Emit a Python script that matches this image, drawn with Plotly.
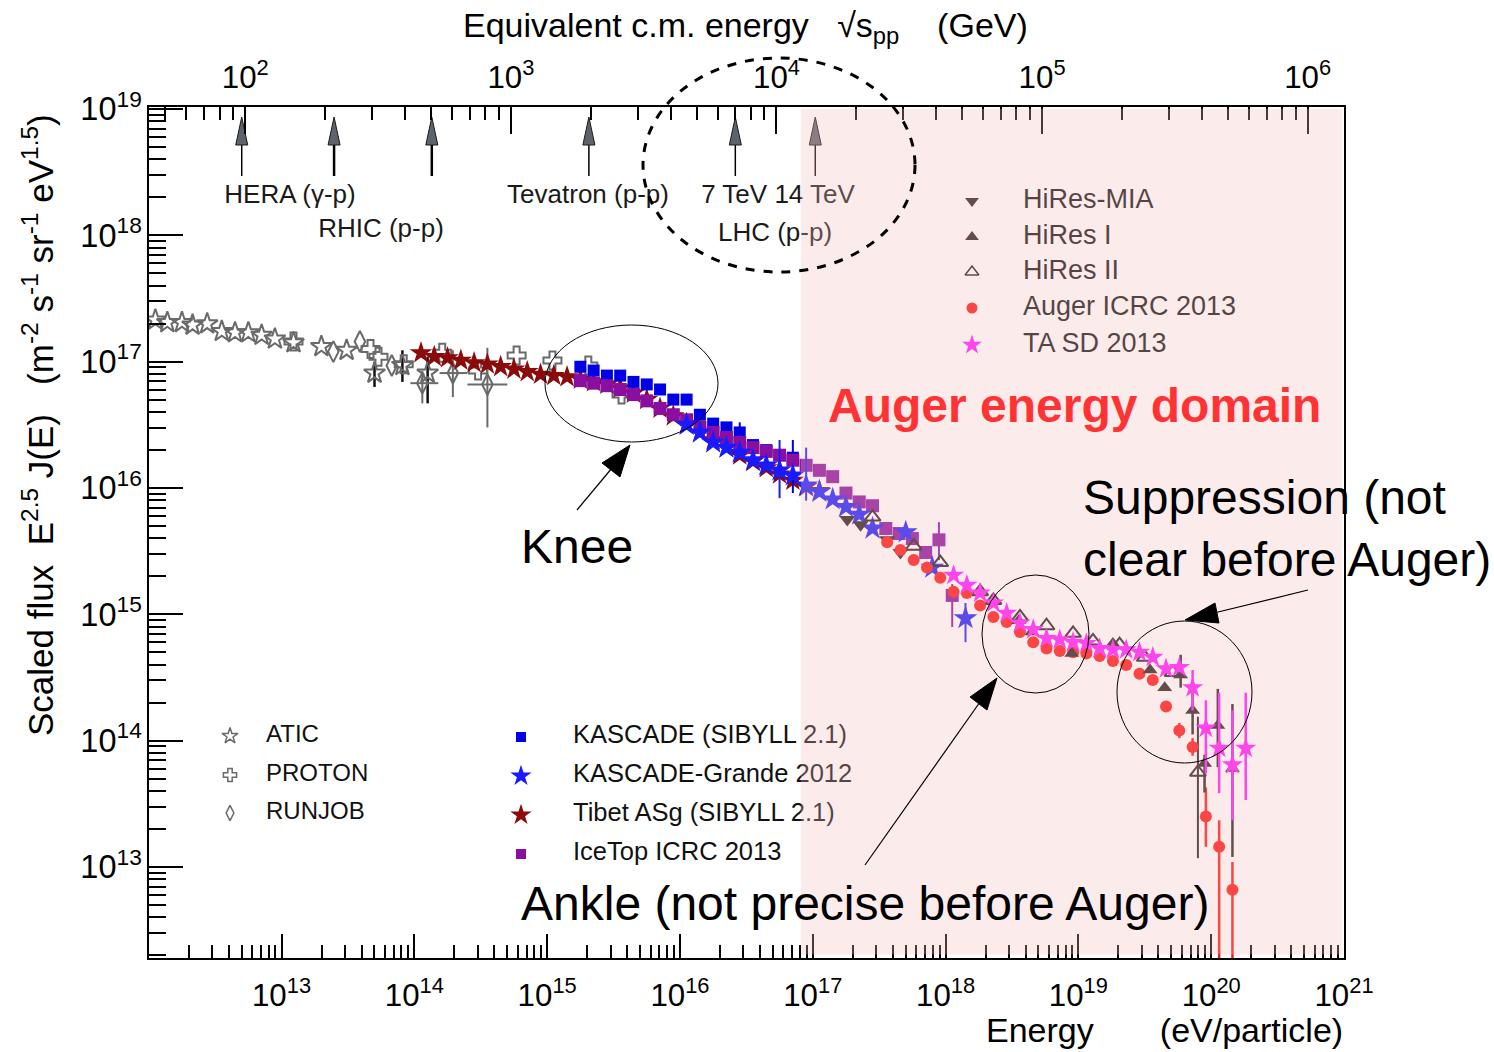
import math
import plotly.graph_objects as go

FONT = "Liberation Sans, Arial, Helvetica, sans-serif"

# ---------------------------------------------------------------------------
# Cosmic-ray spectra: log10(E / eV) and log10(E^2.5 J(E) / m^-2 s^-1 sr^-1 eV^1.5)
# ---------------------------------------------------------------------------
atic_lgE = [12.05, 12.14, 12.25, 12.33, 12.44, 12.55, 12.65, 12.75, 12.85, 12.95,
            13.09, 13.30, 13.49, 13.70, 13.91, 14.10]
atic_lgF = [17.33, 17.31, 17.31, 17.29, 17.30, 17.24, 17.23, 17.23, 17.21, 17.18,
            17.15, 17.12, 17.09, 16.91, 16.97, 16.91]
atic_bar_lgE = [13.70, 13.91, 14.10]
atic_bar_hi = [17.00, 17.09, 17.04]
atic_bar_lo = [16.80, 16.84, 16.67]

proton_lgE = [13.09, 13.67, 13.73, 13.92, 14.21, 14.48, 14.77, 15.04, 15.31, 15.56]
proton_lgF = [17.16, 17.10, 17.04, 16.98, 17.07, 16.93, 17.05, 17.01, 16.97, 16.74]

runjob_lgE = [13.39, 13.59, 13.83, 14.06, 14.29, 14.55]
runjob_lgF = [17.08, 17.16, 16.97, 16.83, 16.91, 16.82]
runjob_bar_lgE = [14.06, 14.29, 14.55]
runjob_bar_hi = [16.93, 17.09, 17.11]
runjob_bar_lo = [16.67, 16.72, 16.48]
runjob_xbar_lo = [13.97, 14.19, 14.40]
runjob_xbar_hi = [14.18, 14.40, 14.70]

tibet_lgE = [14.05, 14.15, 14.25, 14.35, 14.45, 14.55, 14.65, 14.75, 14.85, 14.95,
             15.05, 15.15, 15.25, 15.35, 15.45, 15.55, 15.65, 15.75, 15.85, 15.95,
             16.05, 16.15, 16.25, 16.35, 16.45, 16.55, 16.65, 16.75, 16.85, 16.95, 17.05]
tibet_lgF = [17.07, 17.04, 17.03, 17.01, 16.99, 16.98, 16.96, 16.94, 16.92, 16.90,
             16.89, 16.88, 16.86, 16.84, 16.82, 16.79, 16.75, 16.70, 16.63, 16.57,
             16.51, 16.44, 16.38, 16.32, 16.26, 16.21, 16.16, 16.11, 16.06, 16.01, 15.98]

kascade_lgE = [15.25, 15.35, 15.45, 15.55, 15.65, 15.75, 15.85, 15.95, 16.05, 16.15,
               16.25, 16.35, 16.45, 16.55, 16.65, 16.75, 16.85]
kascade_lgF = [16.96, 16.93, 16.89, 16.89, 16.84, 16.82, 16.78, 16.70, 16.70, 16.58,
               16.51, 16.48, 16.44, 16.34, 16.30, 16.26, 16.24]
kascade_bar_lgE = [16.45, 16.85]
kascade_bar_hi = [16.52, 16.38]
kascade_bar_lo = [16.38, 15.96]

kg_lgE = [16.05, 16.15, 16.25, 16.35, 16.45, 16.55, 16.65, 16.75, 16.85, 16.95,
          17.05, 17.15, 17.25, 17.35, 17.45, 17.70, 17.90, 18.15]
kg_lgF = [16.50, 16.44, 16.36, 16.32, 16.28, 16.22, 16.18, 16.14, 16.10, 16.02,
          15.97, 15.91, 15.85, 15.79, 15.68, 15.65, 15.37, 14.97]
kg_bar_lgE = [16.75, 16.95, 18.15]
kg_bar_hi = [16.38, 16.32, 15.09]
kg_bar_lo = [15.92, 15.90, 14.78]

icetop_lgE = [15.25, 15.35, 15.45, 15.55, 15.65, 15.75, 15.85, 15.95, 16.05, 16.15,
              16.25, 16.35, 16.45, 16.55, 16.65, 16.75, 16.85, 16.95, 17.05, 17.15,
              17.25, 17.35, 17.45, 17.55, 17.65, 17.75, 17.85, 17.95, 18.05]
icetop_lgF = [16.85, 16.83, 16.81, 16.78, 16.74, 16.69, 16.63, 16.58, 16.54, 16.48,
              16.44, 16.40, 16.36, 16.32, 16.29, 16.26, 16.22, 16.18, 16.14, 16.09,
              15.96, 15.89, 15.86, 15.68, 15.64, 15.60, 15.49, 15.59, 15.15]
icetop_bar_lgE = [17.95, 18.05]
icetop_bar_hi = [15.73, 15.24]
icetop_bar_lo = [15.43, 14.90]

hiresmia_lgE = [17.26, 17.36, 17.56, 17.66]
hiresmia_lgF = [15.75, 15.71, 15.59, 15.49]

hires1_lgE = [18.55, 18.65, 18.95, 19.26, 19.54, 19.65, 19.77, 19.86, 19.95, 20.05, 20.16]
hires1_lgF = [14.95, 14.86, 14.69, 14.77, 14.56, 14.42, 14.52, 14.24, 13.82, 14.12, 13.78]
hires1_bar_lgE = [19.77, 19.86, 19.95, 20.05, 20.16]
hires1_bar_hi = [14.68, 14.40, 13.89, 14.41, 14.29]
hires1_bar_lo = [14.42, 14.05, 13.59, 13.79, 13.08]

hires2_lgE = [17.45, 17.76, 17.96, 18.26, 18.36, 18.56, 18.76, 18.96, 19.11, 19.31,
              19.50, 19.71, 19.90]
hires2_lgF = [15.77, 15.54, 15.41, 15.18, 15.11, 14.98, 14.91, 14.85, 14.79, 14.76,
              14.66, 14.54, 13.75]
hires2_bar_lgE = [19.90]
hires2_bar_hi = [14.19]
hires2_bar_lo = [13.07]

auger_lgE = [17.56, 17.66, 17.76, 17.86, 17.96, 18.06, 18.16, 18.26, 18.36, 18.46,
             18.56, 18.66, 18.76, 18.86, 18.96, 19.06, 19.16, 19.26, 19.36, 19.46,
             19.56, 19.66, 19.76, 19.86, 19.96, 20.06, 20.16]
auger_lgF = [15.57, 15.51, 15.43, 15.37, 15.29, 15.18, 15.17, 15.07, 14.98, 14.94,
             14.86, 14.78, 14.73, 14.71, 14.70, 14.69, 14.67, 14.63, 14.60, 14.53,
             14.48, 14.27, 14.08, 13.95, 13.40, 13.16, 12.82]
auger_bar_lgE = [19.76, 19.86, 19.96, 20.06, 20.16]
auger_bar_hi = [14.14, 14.02, 13.63, 13.37, 13.04]
auger_bar_lo = [14.02, 13.88, 13.16, 11.50, 11.50]

ta_lgE = [18.06, 18.16, 18.26, 18.36, 18.46, 18.56, 18.66, 18.76, 18.86, 18.96,
          19.06, 19.16, 19.26, 19.36, 19.46, 19.56, 19.66, 19.76, 19.86, 19.96,
          20.06, 20.16, 20.26]
ta_lgF = [15.31, 15.23, 15.17, 15.09, 15.01, 14.93, 14.88, 14.81, 14.80, 14.78,
          14.77, 14.73, 14.72, 14.72, 14.70, 14.66, 14.57, 14.58, 14.42, 14.10,
          13.94, 13.81, 13.94]
ta_bar_lgE = [19.86, 19.96, 20.06, 20.16, 20.26]
ta_bar_hi = [14.56, 14.32, 14.38, 14.24, 14.38]
ta_bar_lo = [14.24, 13.74, 13.585, 13.37, 13.53]

# Collider energies (sqrt(s) in GeV) and their labels
acc_sqrts = [97, 216, 504, 1967, 7000, 14000]
acc_stem_width = [1.5, 2.5, 2.5, 1.5, 1.5, 1.5]
acc_labels = ["HERA (γ-p)", "RHIC (p-p)", "Tevatron (p-p)", "7 TeV 14 TeV", "LHC (p-p)"]

# Axis extents (log10); the energy axis starts just past 10^12 so that decade is unlabelled
LG_E_MIN, LG_E_MAX = 12.002, 21.0
LG_F_MIN, LG_F_MAX = 12.28, 19.016
AUGER_LG_E = (16.91, 20.985)        # shaded Auger energy domain

TWO_MP = 2 * 0.938272               # GeV


def lg_sqrts(lg_e):
    """log10 of the pp c.m. energy (GeV) for a proton of energy 10**lg_e eV on a proton at rest."""
    return 0.5 * (lg_e - 9 + math.log10(TWO_MP))


# plot-area box in page pixels, used to place decorations
W0, W1, H0, H1 = 149, 1344, 107, 958


def px(x):
    return (x - W0) / (W1 - W0)


def py(y):
    return (H1 - y) / (H1 - H0)


def pw(v):
    return [10 ** x for x in v]


def bars(lg_pos, lg_val, bar_pos, bar_hi, bar_lo, color, thick=2):
    plus, minus = [], []
    for p, v in zip(lg_pos, lg_val):
        if p in bar_pos:
            i = bar_pos.index(p)
            plus.append(10 ** bar_hi[i] - 10 ** v)
            minus.append(10 ** v - 10 ** bar_lo[i])
        else:
            plus.append(0.0)
            minus.append(0.0)
    return dict(type="data", symmetric=False, array=plus, arrayminus=minus,
                color=color, thickness=thick, width=0)


fig = go.Figure()


def add_series(lgE, lgF, symbol, color, size, open_marker=False, error_y=None, error_x=None):
    marker = dict(symbol=symbol, color=color, size=size,
                  line=dict(width=2 if open_marker else 0, color=color))
    tr = go.Scatter(x=pw(lgE), y=pw(lgF), mode="markers", marker=marker,
                    showlegend=False, hoverinfo="skip")
    if error_y:
        tr.error_y = error_y
    if error_x:
        tr.error_x = error_x
    fig.add_trace(tr)


GREY = "#6a6a6a"
C_TIBET = "#8b0a0a"
C_KASCADE = "#0000e6"
C_KG = "#1a1aff"
C_ICETOP = "#8a0fa0"
C_HIRES = "#231c1c"
C_AUGER = "#ff1212"
C_TA = "#ff14ff"

add_series(atic_lgE, atic_lgF, "star-open", GREY, 16, True,
           error_y=bars(atic_lgE, atic_lgF, atic_bar_lgE, atic_bar_hi, atic_bar_lo, "#111111", 2.5))
add_series(proton_lgE, proton_lgF, "cross-open", GREY, 15, True)
add_series(runjob_lgE, runjob_lgF, "diamond-tall-open", GREY, 15, True,
           error_y=bars(runjob_lgE, runjob_lgF, runjob_bar_lgE, runjob_bar_hi, runjob_bar_lo, GREY, 2),
           error_x=bars(runjob_lgE, runjob_lgE, runjob_bar_lgE, runjob_xbar_hi, runjob_xbar_lo, GREY, 2))
add_series(tibet_lgE, tibet_lgF, "star", C_TIBET, 17)
add_series(kascade_lgE, kascade_lgF, "square", C_KASCADE, 12,
           error_y=bars(kascade_lgE, kascade_lgF, kascade_bar_lgE, kascade_bar_hi, kascade_bar_lo, C_KASCADE))
add_series(icetop_lgE, icetop_lgF, "square", C_ICETOP, 13,
           error_y=bars(icetop_lgE, icetop_lgF, icetop_bar_lgE, icetop_bar_hi, icetop_bar_lo, C_ICETOP))
add_series(kg_lgE, kg_lgF, "star", C_KG, 18,
           error_y=bars(kg_lgE, kg_lgF, kg_bar_lgE, kg_bar_hi, kg_bar_lo, C_KG))
add_series(hiresmia_lgE, hiresmia_lgF, "triangle-down", C_HIRES, 14)
add_series(hires2_lgE, hires2_lgF, "triangle-up-open", C_HIRES, 14, True,
           error_y=bars(hires2_lgE, hires2_lgF, hires2_bar_lgE, hires2_bar_hi, hires2_bar_lo, C_HIRES))
add_series(auger_lgE, auger_lgF, "circle", C_AUGER, 12,
           error_y=bars(auger_lgE, auger_lgF, auger_bar_lgE, auger_bar_hi, auger_bar_lo, C_AUGER, 2.5))
add_series(hires1_lgE, hires1_lgF, "triangle-up", C_HIRES, 13,
           error_y=bars(hires1_lgE, hires1_lgF, hires1_bar_lgE, hires1_bar_hi, hires1_bar_lo, C_HIRES, 2.5))
add_series(ta_lgE, ta_lgF, "star", C_TA, 16,
           error_y=bars(ta_lgE, ta_lgF, ta_bar_lgE, ta_bar_hi, ta_bar_lo, C_TA, 2.5))

# ---- collider arrows on the sqrt(s) axis ----
head_half = 10 ** (6 / 265.5)
for s, w in zip(acc_sqrts, acc_stem_width):
    fig.add_trace(go.Scatter(x=[s, s], y=[py(176), py(142)], xaxis="x2", yaxis="y3",
                             mode="lines", line=dict(color="black", width=w),
                             showlegend=False, hoverinfo="skip"))
    fig.add_trace(go.Scatter(x=[s / head_half, s * head_half, s, s / head_half],
                             y=[py(145), py(145), py(117), py(145)],
                             xaxis="x2", yaxis="y3", mode="lines", fill="toself",
                             fillcolor="#5c636b", line=dict(color="#1a1a1a", width=1),
                             showlegend=False, hoverinfo="skip"))

acc_label_x = [290, 381, 588, 778, 775]
acc_label_y = [196, 230, 196, 196, 234]
fig.add_trace(go.Scatter(x=[px(v) for v in acc_label_x], y=[py(v) for v in acc_label_y],
                         xaxis="x3", yaxis="y3", mode="text", text=acc_labels,
                         textposition="middle center", cliponaxis=False,
                         textfont=dict(family=FONT, size=26, color="#1a1a1a"),
                         showlegend=False, hoverinfo="skip"))

# ---- legend blocks ----
legend_entries = [
    # label, symbol, colour, marker size, open, symbol-x px, text-x px, row-y px, font size
    ("ATIC", "star-open", GREY, 12, True, 230, 266, 736, 24),
    ("PROTON", "cross-open", GREY, 11, True, 230, 266, 775, 24),
    ("RUNJOB", "diamond-tall-open", GREY, 11, True, 230, 266, 813, 24),
    ("KASCADE (SIBYLL 2.1)", "square", C_KASCADE, 10, False, 521, 573, 737, 25.5),
    ("KASCADE-Grande 2012", "star", C_KG, 16, False, 521, 573, 776, 25.5),
    ("Tibet ASg (SIBYLL 2.1)", "star", C_TIBET, 16, False, 521, 573, 815, 25.5),
    ("IceTop ICRC 2013", "square", C_ICETOP, 10, False, 521, 573, 854, 25.5),
    ("HiRes-MIA", "triangle-down", C_HIRES, 12, False, 972, 1023, 201, 27),
    ("HiRes I", "triangle-up", C_HIRES, 12, False, 972, 1023, 237, 27),
    ("HiRes II", "triangle-up-open", C_HIRES, 12, True, 972, 1023, 272, 27),
    ("Auger ICRC 2013", "circle", C_AUGER, 11, False, 972, 1023, 308, 27),
    ("TA SD 2013", "star", C_TA, 15, False, 972, 1023, 345, 27),
]
for label, sym, col, size, is_open, sx, tx, ry, fs in legend_entries:
    fig.add_trace(go.Scatter(x=[px(sx)], y=[py(ry)], xaxis="x3", yaxis="y3", mode="markers",
                             marker=dict(symbol=sym, color=col, size=size,
                                         line=dict(width=1.5 if is_open else 0, color=col)),
                             cliponaxis=False, showlegend=False, hoverinfo="skip"))
    fig.add_trace(go.Scatter(x=[px(tx)], y=[py(ry)], xaxis="x3", yaxis="y3", mode="text",
                             text=[label], textposition="middle right", cliponaxis=False,
                             textfont=dict(family=FONT, size=fs, color="#111111"),
                             showlegend=False, hoverinfo="skip"))

# ---- shapes: shaded Auger domain (drawn over the data) and the marked features ----
shapes = [
    dict(type="rect", xref="paper", yref="paper",
         x0=(AUGER_LG_E[0] - LG_E_MIN) / (LG_E_MAX - LG_E_MIN),
         x1=(AUGER_LG_E[1] - LG_E_MIN) / (LG_E_MAX - LG_E_MIN),
         y0=0.004, y1=0.998, fillcolor="rgb(245,190,190)", opacity=0.3,
         line=dict(width=0), layer="above"),
]


def ellipse(x0, x1, y0, y1, width=1, dash="solid"):
    return dict(type="circle", xref="paper", yref="paper",
                x0=px(x0), x1=px(x1), y0=py(y1), y1=py(y0),
                line=dict(color="black", width=width, dash=dash), layer="above")


def arrow(tail, base, tip, left, right):
    line = dict(type="line", xref="paper", yref="paper",
                x0=px(tail[0]), y0=py(tail[1]), x1=px(base[0]), y1=py(base[1]),
                line=dict(color="black", width=1.2), layer="above")
    head = dict(type="path", xref="paper", yref="paper",
                path="M {:.5f},{:.5f} L {:.5f},{:.5f} L {:.5f},{:.5f} Z".format(
                    px(tip[0]), py(tip[1]), px(left[0]), py(left[1]), px(right[0]), py(right[1])),
                fillcolor="black", line=dict(color="black", width=1), layer="above")
    return [line, head]


shapes.append(ellipse(545, 718, 325, 442))
shapes.append(ellipse(982, 1089, 575, 693))
shapes.append(ellipse(1117, 1252, 621, 763))
shapes.append(ellipse(643, 915, 58, 272, width=3, dash="dash"))
shapes += arrow((577, 510), (612, 468), (630, 445), (602, 463), (620, 477))
shapes += arrow((865, 865), (980, 702), (997, 678), (970, 697), (987, 710))
shapes += arrow((1308, 590), (1214, 613), (1185, 620), (1215, 603), (1219, 623))

# ---- text ----
big = dict(family=FONT, size=48, color="black")
annotations = [
    dict(text="Equivalent c.m. energy\u00a0\u00a0 √s<sub>pp</sub>\u00a0\u00a0\u00a0 (GeV)",
         x=px(745), y=py(28), xref="paper", yref="paper", showarrow=False,
         xanchor="center", yanchor="middle", font=dict(family=FONT, size=34, color="black")),
    dict(text="Scaled flux\u00a0\u00a0E<sup>2.5</sup> J(E)\u00a0\u00a0 (m<sup>-2</sup> s<sup>-1</sup> sr<sup>-1</sup> eV<sup>1.5</sup>)",
         x=px(38), y=py(425), xref="paper", yref="paper", showarrow=False, textangle=-90,
         xanchor="center", yanchor="middle", font=dict(family=FONT, size=35, color="black")),
    dict(text="Energy\u00a0\u00a0\u00a0\u00a0\u00a0\u00a0 (eV/particle)",
         x=px(1345), y=py(1030), xref="paper", yref="paper", showarrow=False,
         xanchor="right", yanchor="middle", font=dict(family=FONT, size=34, color="black")),
    dict(text="<b>Auger energy domain</b>", x=px(826), y=py(405), xref="paper", yref="paper",
         showarrow=False, xanchor="left", yanchor="middle",
         font=dict(family=FONT, size=48, color="#ff3333")),
    dict(text="Knee", x=px(519), y=py(546), xref="paper", yref="paper", showarrow=False,
         xanchor="left", yanchor="middle", font=big),
    dict(text="Suppression (not<br>clear before Auger)", x=px(1081), y=py(528), xref="paper",
         yref="paper", showarrow=False, xanchor="left", yanchor="middle", align="left", font=big),
    dict(text="Ankle (not precise before Auger)", x=px(519), y=py(903), xref="paper",
         yref="paper", showarrow=False, xanchor="left", yanchor="middle", font=big),
]

tickfont = dict(family=FONT, size=25, color="black")
axis_common = dict(type="log", dtick=1, exponentformat="power", showgrid=False, zeroline=False,
                   showline=True, linewidth=2, linecolor="black", ticks="inside",
                   tickwidth=2, tickcolor="black", tickfont=tickfont)

fig.update_layout(
    width=1494, height=1052,
    margin=dict(l=W0, r=1494 - W1, t=H0, b=1052 - H1),
    paper_bgcolor="white", plot_bgcolor="white",
    showlegend=False,
    xaxis=dict(axis_common, range=[LG_E_MIN, LG_E_MAX], ticklen=24, ticklabelstandoff=10,
               minor=dict(ticks="inside", ticklen=13, tickwidth=1.5, tickcolor="black",
                          dtick="D1", showgrid=False)),
    xaxis2=dict(axis_common, overlaying="x", side="top",
                range=[lg_sqrts(LG_E_MIN), lg_sqrts(LG_E_MAX)], ticklen=27, ticklabelstandoff=6,
                minor=dict(ticks="inside", ticklen=13, tickwidth=1.5, tickcolor="black",
                           dtick="D1", showgrid=False)),
    yaxis=dict(axis_common, range=[LG_F_MIN, LG_F_MAX], ticklen=34, mirror=True,
               tickfont=dict(family=FONT, size=26, color="black"),
               minor=dict(ticks="inside", ticklen=17, tickwidth=1.5, tickcolor="black",
                          dtick="D1", showgrid=False)),
    xaxis3=dict(overlaying="x", range=[0, 1], visible=False),
    yaxis3=dict(overlaying="y", range=[0, 1], visible=False),
    shapes=shapes,
    annotations=annotations,
)

fig.write_html("out.html")
